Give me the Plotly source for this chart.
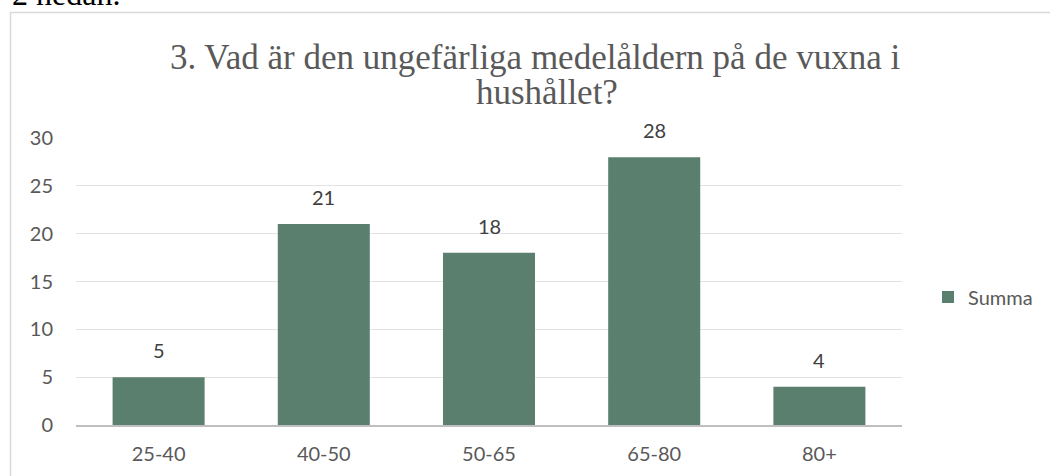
import plotly.graph_objects as go

categories = ["25-40", "40-50", "50-65", "65-80", "80+"]
values = [5, 21, 18, 28, 4]
series_name = "Summa"
title_line1 = "3. Vad är den ungefärliga medelåldern på de vuxna i"
title_line2 = "hushållet?"
y_ticks = [0, 5, 10, 15, 20, 25, 30]

W, H = 1050, 476
L, R, T, B = 76, 148, 138, 51
SANS = "Lato, Noto Sans, sans-serif"
SERIF = "Liberation Serif, Times New Roman, serif"

fig = go.Figure()
fig.add_trace(go.Bar(
    x=categories, y=values, name=series_name,
    marker=dict(color="#5b7f6e", line=dict(width=0)),
))

def px_x(p):
    return (p - L) / (W - L - R)

def px_y(p):
    return (H - B - p) / (H - T - B)

annotations = [
    dict(x=c, y=v, xref="x", yref="y", text=str(v), showarrow=False,
         yanchor="middle", yshift=27,
         font=dict(family=SANS, size=20, color="#404040"))
    for c, v in zip(categories, values)
]
annotations += [
    dict(text=title_line1, xref="paper", yref="paper", x=px_x(535), y=px_y(57),
         xanchor="center", yanchor="middle", showarrow=False,
         font=dict(family=SERIF, size=35, color="#595959")),
    dict(text=title_line2, xref="paper", yref="paper", x=px_x(547), y=px_y(92),
         xanchor="center", yanchor="middle", showarrow=False,
         font=dict(family=SERIF, size=35, color="#595959")),
    dict(text="2 nedan.", xref="paper", yref="paper", x=px_x(10), y=px_y(-6),
         xanchor="left", yanchor="middle", showarrow=False,
         font=dict(family=SERIF, size=32, color="#000000")),
]

fig.update_layout(
    width=W, height=H,
    margin=dict(l=L, r=R, t=T, b=B),
    paper_bgcolor="white", plot_bgcolor="white",
    bargap=0.443,
    showlegend=True,
    legend=dict(x=px_x(928), y=px_y(297), xanchor="left", yanchor="middle",
                font=dict(family=SANS, size=20, color="#595959"),
                bgcolor="rgba(0,0,0,0)"),
    xaxis=dict(showgrid=False, showline=True, linecolor="#bfbfbf", linewidth=2,
               ticks="", tickfont=dict(family=SANS, size=20, color="#595959"),
               ticklabelstandoff=10),
    yaxis=dict(range=[0, 30], tickvals=y_ticks, showgrid=True, gridcolor="#e3e3e3", gridwidth=1,
               zeroline=False, showline=False, ticks="",
               tickfont=dict(family=SANS, size=20, color="#595959"),
               ticklabelstandoff=22),
    annotations=annotations,
    shapes=[
        dict(type="rect", xref="paper", yref="paper", x0=px_x(10.5), x1=px_x(1060),
             y0=px_y(490), y1=px_y(12.5), line=dict(color="#d9d9d9", width=1.5),
             fillcolor="rgba(0,0,0,0)", layer="below"),
    ],
)

fig.write_html("out.html", config={"displayModeBar": False},
               post_script="document.body.style.margin='0';document.body.style.padding='0';")
